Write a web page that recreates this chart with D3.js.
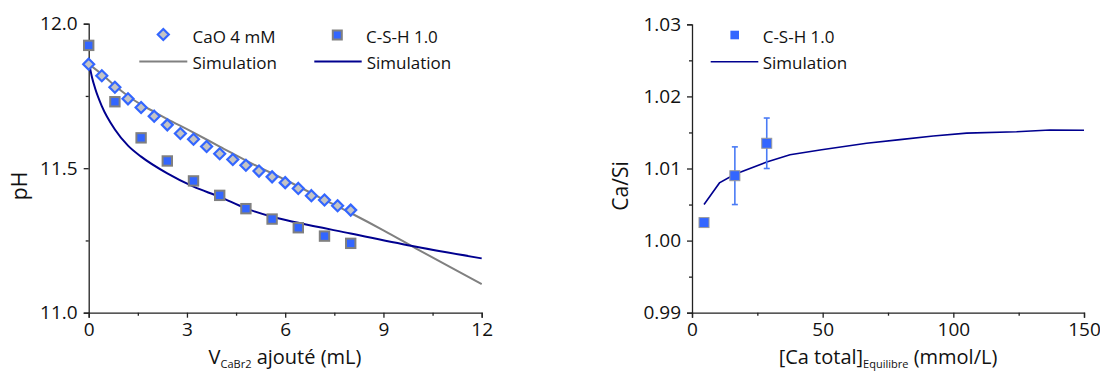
<!DOCTYPE html>
<html>
<head>
<meta charset="utf-8">
<script src="https://cdn.jsdelivr.net/npm/d3@7"></script>
<style>
  html, body { margin: 0; padding: 0; background: #fff; }
  svg { display: block; font-family: "Open Sans", "DejaVu Sans", sans-serif; }
</style>
</head>
<body>
<svg id="chart" width="1100" height="372"></svg>
<script>
// ---------- Data: left panel (pH vs added volume) ----------
const caoX = [0, 0.4, 0.8, 1.2, 1.6, 2.0, 2.4, 2.8, 3.2, 3.6, 4.0, 4.4, 4.8, 5.2, 5.6, 6.0, 6.4, 6.8, 7.2, 7.6, 8.0];
const caoPH = [11.86, 11.82, 11.78, 11.74, 11.71, 11.68, 11.65, 11.62, 11.60, 11.575, 11.55, 11.53, 11.51, 11.49, 11.47, 11.45, 11.43, 11.405, 11.39, 11.37, 11.355];

const cshX = [0, 0.8, 1.6, 2.4, 3.2, 4.0, 4.8, 5.6, 6.4, 7.2, 8.0];
const cshPH = [11.925, 11.73, 11.605, 11.525, 11.456, 11.406, 11.36, 11.324, 11.294, 11.265, 11.24];

const simCaoX = [0, 0.4, 0.8, 1.2, 1.6, 2.0, 2.4, 3, 4, 5, 6, 7, 8, 9, 10, 11, 12];
const simCaoPH = [11.86, 11.825, 11.785, 11.75, 11.72, 11.695, 11.67, 11.635, 11.575, 11.515, 11.46, 11.402, 11.345, 11.285, 11.222, 11.16, 11.099];

const simCshX = [0, 0.1, 0.2, 0.4, 0.8, 1.2, 1.6, 2.4, 3.2, 4.0, 4.8, 5.6, 6.4, 8.0, 10, 12];
const simCshPH = [11.87, 11.815, 11.775, 11.715, 11.634, 11.578, 11.54, 11.482, 11.436, 11.401, 11.361, 11.332, 11.311, 11.274, 11.228, 11.188];

// ---------- Data: right panel (Ca/Si vs total Ca) ----------
const csX = [4.6, 16.4, 28.6];
const csRatio = [1.0025, 1.009, 1.0135];
const csErr = [0, 0.004, 0.0035];

const simRX = [4.6, 10.5, 16.4, 28.6, 37.5, 49.6, 66.8, 79.6, 92.3, 105.1, 124.2, 137, 150];
const simRY = [1.005, 1.008, 1.0092, 1.0109, 1.0119, 1.0126, 1.0135, 1.014, 1.0145, 1.0149, 1.0151, 1.01535, 1.0153];

// ---------- Tick definitions ----------
const leftXTicks = [0, 3, 6, 9, 12];
const leftXMinor = [1.5, 4.5, 7.5, 10.5];
const leftYTicks = [11.0, 11.5, 12.0];
const leftYMinor = [11.25, 11.75];
const rightXTicks = [0, 50, 100, 150];
const rightXMinor = [25, 75, 125];
const rightYTicks = [0.99, 1.00, 1.01, 1.02, 1.03];
const rightYMinor = [0.995, 1.005, 1.015, 1.025];

// ---------- Styles ----------
const BLUE = "#3366ff";
const NAVY = "#00008f";
const GRAY = "#808080";
const DFILL = "#c4c4c4";
const AXIS = "#222";

const svg = d3.select("#chart");

function drawAxes(g, x, y, xt, xm, yt, ym, yfmt, xfmt) {
  const xa = g.append("g").attr("transform", `translate(0,${y.range()[0]})`)
    .call(d3.axisBottom(x).tickValues(xt).tickFormat(xfmt).tickSize(5).tickPadding(5));
  const xmn = g.append("g").attr("transform", `translate(0,${y.range()[0]})`)
    .call(d3.axisBottom(x).tickValues(xm).tickFormat("").tickSize(3));
  const ya = g.append("g").attr("transform", `translate(${x.range()[0]},0)`)
    .call(d3.axisLeft(y).tickValues(yt).tickFormat(yfmt).tickSize(5).tickPadding(6));
  const ymn = g.append("g").attr("transform", `translate(${x.range()[0]},0)`)
    .call(d3.axisLeft(y).tickValues(ym).tickFormat("").tickSize(3));
  [xa, xmn, ya, ymn].forEach(a => {
    a.select(".domain").attr("stroke", AXIS).attr("stroke-width", 1.3);
    a.selectAll(".tick line").attr("stroke", AXIS).attr("stroke-width", 1.3);
    a.selectAll("text").attr("fill", "#111").style("font-size", "19px")
      .style("font-family", '"Open Sans", sans-serif');
  });
  xmn.select(".domain").remove();
  ymn.select(".domain").remove();
}

const diamond = (cx, cy, r) => `M${cx},${cy - r}L${cx + r},${cy}L${cx},${cy + r}L${cx - r},${cy}Z`;

// ================= LEFT PANEL =================
const xL = d3.scaleLinear().domain([0, 12]).range([88.7, 481.7]);
const yL = d3.scaleLinear().domain([11, 12]).range([312.7, 23.7]);
const gL = svg.append("g");

drawAxes(gL, xL, yL, leftXTicks, leftXMinor, leftYTicks, leftYMinor, d3.format(".1f"), d3.format("d"));

const lineL = d3.line().x(d => xL(d[0])).y(d => yL(d[1])).curve(d3.curveMonotoneX);

gL.append("path").datum(simCaoX.map((v, i) => [v, simCaoPH[i]]))
  .attr("d", lineL).attr("fill", "none").attr("stroke", GRAY).attr("stroke-width", 2);

gL.append("path").datum(simCshX.map((v, i) => [v, simCshPH[i]]))
  .attr("d", lineL).attr("fill", "none").attr("stroke", NAVY).attr("stroke-width", 2);

gL.append("g").selectAll("path").data(caoX.map((v, i) => [v, caoPH[i]])).join("path")
  .attr("d", d => diamond(xL(d[0]), yL(d[1]), 5.5))
  .attr("fill", DFILL).attr("stroke", BLUE).attr("stroke-width", 2.2);

gL.append("g").selectAll("rect").data(cshX.map((v, i) => [v, cshPH[i]])).join("rect")
  .attr("x", d => xL(d[0]) - 4.7).attr("y", d => yL(d[1]) - 4.7)
  .attr("width", 9.4).attr("height", 9.4)
  .attr("fill", BLUE).attr("stroke", GRAY).attr("stroke-width", 2);

// left legend
const legL = gL.append("g").style("font-size", "17px").attr("fill", "#111");
legL.append("path").attr("d", diamond(163.3, 34.5, 5.5)).attr("fill", DFILL).attr("stroke", BLUE).attr("stroke-width", 2.2);
legL.append("text").attr("x", 192.5).attr("y", 42.5).text("CaO 4 mM");
legL.append("line").attr("x1", 139.3).attr("x2", 187.3).attr("y1", 61.5).attr("y2", 61.5).attr("stroke", GRAY).attr("stroke-width", 2);
legL.append("text").attr("x", 192.5).attr("y", 69).text("Simulation");
legL.append("rect").attr("x", 337.3 - 4.5).attr("y", 35 - 4.5).attr("width", 9).attr("height", 9)
  .attr("fill", BLUE).attr("stroke", GRAY).attr("stroke-width", 2);
legL.append("text").attr("x", 366).attr("y", 42.5).text("C-S-H 1.0");
legL.append("line").attr("x1", 314.3).attr("x2", 361.7).attr("y1", 61.5).attr("y2", 61.5).attr("stroke", NAVY).attr("stroke-width", 2);
legL.append("text").attr("x", 366.7).attr("y", 69).text("Simulation");

// left axis titles
gL.append("text").attr("transform", "translate(27,186) rotate(-90)")
  .attr("text-anchor", "middle").style("font-size", "21px").attr("fill", "#111").text("pH");
const tL = gL.append("text").attr("x", 285).attr("y", 363.5).attr("text-anchor", "middle")
  .style("font-size", "20px").attr("fill", "#111");
tL.append("tspan").text("V");
tL.append("tspan").attr("dy", 4).style("font-size", "11px").text("CaBr2");
tL.append("tspan").attr("dy", -4).text(" ajouté (mL)");

// ================= RIGHT PANEL =================
const xR = d3.scaleLinear().domain([0, 150]).range([692, 1084]);
const yR = d3.scaleLinear().domain([0.99, 1.03]).range([312.7, 24.3]);
const gR = svg.append("g");

drawAxes(gR, xR, yR, rightXTicks, rightXMinor, rightYTicks, rightYMinor, d3.format(".2f"), d3.format("d"));

const lineR = d3.line().x(d => xR(d[0])).y(d => yR(d[1]));
gR.append("path").datum(simRX.map((v, i) => [v, simRY[i]]))
  .attr("d", lineR).attr("fill", "none").attr("stroke", NAVY).attr("stroke-width", 1.6);

const ptsR = csX.map((v, i) => ({ x: v, y: csRatio[i], e: csErr[i] }));
const eb = gR.append("g").selectAll("g").data(ptsR.filter(d => d.e > 0)).join("g")
  .attr("stroke", "#4a7bf5").attr("stroke-width", 1.6);
eb.append("line").attr("x1", d => xR(d.x)).attr("x2", d => xR(d.x))
  .attr("y1", d => yR(d.y + d.e)).attr("y2", d => yR(d.y - d.e));
eb.append("line").attr("x1", d => xR(d.x) - 3).attr("x2", d => xR(d.x) + 3)
  .attr("y1", d => yR(d.y + d.e)).attr("y2", d => yR(d.y + d.e));
eb.append("line").attr("x1", d => xR(d.x) - 3).attr("x2", d => xR(d.x) + 3)
  .attr("y1", d => yR(d.y - d.e)).attr("y2", d => yR(d.y - d.e));

gR.append("g").selectAll("rect").data(ptsR).join("rect")
  .attr("x", d => xR(d.x) - 5).attr("y", d => yR(d.y) - 5)
  .attr("width", 10).attr("height", 10)
  .attr("fill", BLUE).attr("stroke", "#9a9a9a").attr("stroke-width", 1);

// right legend
const legR = gR.append("g").style("font-size", "17px").attr("fill", "#111");
legR.append("rect").attr("x", 734.7 - 4.3).attr("y", 35 - 4.3).attr("width", 8.6).attr("height", 8.6).attr("fill", BLUE);
legR.append("text").attr("x", 762.7).attr("y", 42.5).text("C-S-H 1.0");
legR.append("line").attr("x1", 710.7).attr("x2", 758.3).attr("y1", 61.7).attr("y2", 61.7).attr("stroke", NAVY).attr("stroke-width", 1.6);
legR.append("text").attr("x", 762.7).attr("y", 69).text("Simulation");

// right axis titles
gR.append("text").attr("transform", "translate(628,186) rotate(-90)")
  .attr("text-anchor", "middle").style("font-size", "21px").attr("fill", "#111").text("Ca/Si");
const tR = gR.append("text").attr("x", 888).attr("y", 363.5).attr("text-anchor", "middle")
  .style("font-size", "20px").attr("fill", "#111");
tR.append("tspan").text("[Ca total]");
tR.append("tspan").attr("dy", 4).style("font-size", "11px").text("Equilibre");
tR.append("tspan").attr("dy", -4).text(" (mmol/L)");
</script>
</body>
</html>
